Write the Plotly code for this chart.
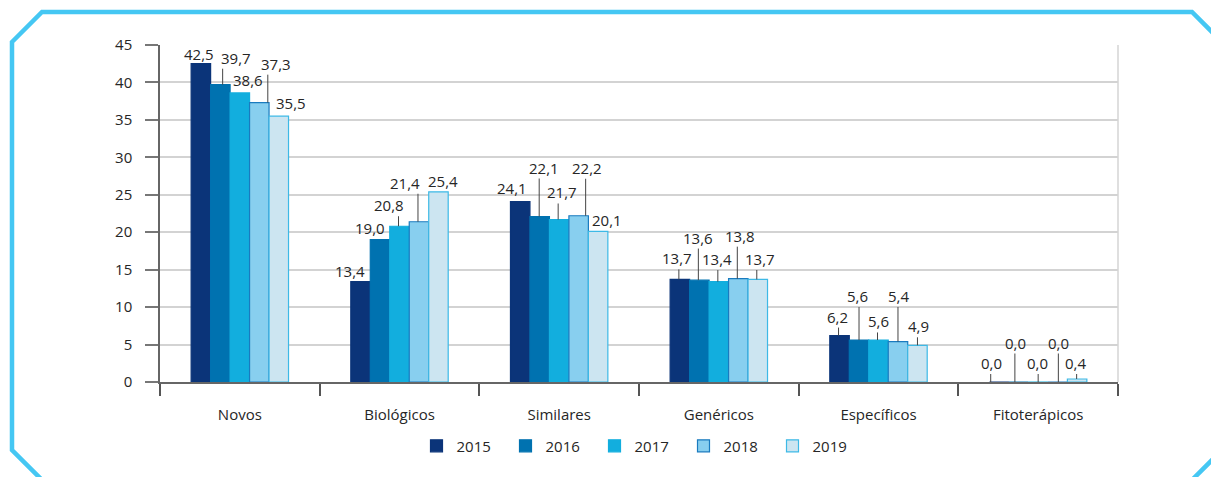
import plotly.graph_objects as go

categories = ["Novos", "Biológicos", "Similares", "Genéricos", "Específicos", "Fitoterápicos"]
years = ["2015", "2016", "2017", "2018", "2019"]

v2015 = [42.5, 13.4, 24.1, 13.7, 6.2, 0.0]
v2016 = [39.7, 19.0, 22.1, 13.6, 5.6, 0.0]
v2017 = [38.6, 20.8, 21.7, 13.4, 5.6, 0.0]
v2018 = [37.3, 21.4, 22.2, 13.8, 5.4, 0.0]
v2019 = [35.5, 25.4, 20.1, 13.7, 4.9, 0.4]
series = [v2015, v2016, v2017, v2018, v2019]

# label placement (style only): px above bar top, text x shift, leader x shift
lab2015 = [10, 10.6, 14, 21, 19, 19]
lab2016 = [27, 12, 49, 42.6, 44, 39.5]
lab2017 = [12.5, 21, 27, 22.6, 18.6, 19]
lab2018 = [39, 39, 48, 43, 45.6, 39.5]
lab2019 = [13.5, 11, 11, 20.4, 19, 16]
label_offsets = [lab2015, lab2016, lab2017, lab2018, lab2019]

tdx2015 = [-1.5, -10.7, -8, -3, -2, -8]
tdx2016 = [15.6, -9.6, 4, -1.7, -1.3, -3.5]
tdx2017 = [8, -11, 3, -2, -0.5, -0.7]
tdx2018 = [17, -14.4, 8.5, 2, 0.4, 0.7]
tdx2019 = [12, 4.2, 8.7, 2, 0.7, -1.2]
text_dx = [tdx2015, tdx2016, tdx2017, tdx2018, tdx2019]

ldx2015 = [0, 0, 0, -1, -1, -8.5]
ldx2016 = [2.3, 0, -0.5, -1, 0, -3.8]
ldx2017 = [0, -1, -1, -1, -1, 0]
ldx2018 = [8.5, -1, 7, -1, 0, 0.7]
ldx2019 = [0, 0, 0, -1, 0, -0.5]
leader_dx = [ldx2015, ldx2016, ldx2017, ldx2018, ldx2019]

fills = ["#0B3479", "#0072B0", "#12AEDE", "#88CFEF", "#CCE5F1"]
borders = ["#0B3479", "#0072B0", "#12AEDE", "#1A7BBF", "#3DB9E6"]

FONT = "Open Sans"
TXT = "#262626"
bargap = 0.39
n = len(years)
bw = (1 - bargap) / n

fig = go.Figure()
for j, (yr, vals) in enumerate(zip(years, series)):
    fig.add_trace(go.Bar(
        name=yr, x=list(range(len(categories))), y=vals,
        marker=dict(color=fills[j], line=dict(color=borders[j], width=1.2)),
        hoverinfo="skip",
    ))

annotations = []
shapes = []
for j, vals in enumerate(series):
    for i, v in enumerate(vals):
        off = label_offsets[j][i]
        xpos = i + (j - (n - 1) / 2) * bw
        txt = f"{v:.1f}".replace(".", ",")
        annotations.append(dict(
            x=xpos, y=v, xref="x", yref="y", text=txt,
            showarrow=False, yshift=off, xshift=text_dx[j][i],
            yanchor="middle", xanchor="center",
            font=dict(family=FONT, size=15, color=TXT),
        ))
        if off > 15:
            d = leader_dx[j][i]
            shapes.append(dict(
                type="line", xref="x", yref="y",
                xsizemode="pixel", xanchor=xpos, x0=d, x1=d,
                ysizemode="pixel", yanchor=v, y0=0, y1=off - 11,
                line=dict(color="#444", width=1),
            ))

# frame (octagon) in pixel coordinates converted to paper
L, R, T, B = 160, 93, 45, 95
W, H = 1211, 477
pw, ph = W - L - R, H - T - B

def P(px, py):
    return (px - L) / pw, (H - B - py) / ph

pts = [(12, 42), (42, 12), (1192, 12), (1222, 42), (1222, 450), (1192, 480), (42, 480), (12, 450)]
path = "M " + " L ".join(f"{P(a, b)[0]:.5f},{P(a, b)[1]:.5f}" for a, b in pts) + " Z"

shapes += [
    dict(type="path", xref="paper", yref="paper", path=path,
         line=dict(color="#45C7F3", width=4.5), fillcolor="rgba(0,0,0,0)"),
    dict(type="line", xref="paper", yref="paper", x0=1, x1=1, y0=0, y1=1,
         line=dict(color="#D5D5D5", width=1.5)),
]

fig.update_layout(
    width=W, height=H, autosize=False,
    margin=dict(l=L, r=R, t=T, b=B),
    paper_bgcolor="white", plot_bgcolor="white",
    barmode="group", bargap=bargap, bargroupgap=0,
    font=dict(family=FONT, size=15, color=TXT),
    showlegend=True,
    legend=dict(orientation="h", x=0.5, xanchor="center", y=-0.19, yanchor="middle",
                font=dict(family=FONT, size=15, color=TXT), entrywidth=44,
                traceorder="normal"),
    annotations=annotations,
    shapes=shapes,
    xaxis=dict(
        range=[-0.5, len(categories) - 0.5],
        tickmode="array", tickvals=list(range(len(categories))), ticktext=categories,
        ticks="", showgrid=False, zeroline=False,
        showline=True, linecolor="#666", linewidth=1.5,
        ticklabelstandoff=18,
        tickfont=dict(family=FONT, size=15, color=TXT),
        minor=dict(tickmode="array", tickvals=[k - 0.5 for k in range(len(categories) + 1)],
                   ticks="outside", ticklen=12, tickcolor="#555", tickwidth=1.5, showgrid=False),
    ),
    yaxis=dict(
        range=[0, 45], dtick=5, tick0=0,
        showgrid=True, gridcolor="#D3D3D3", gridwidth=1.5,
        zeroline=False, showline=True, linecolor="#666", linewidth=1.5,
        ticks="outside", ticklen=13, tickcolor="#777", tickwidth=1.5,
        ticklabelstandoff=10,
        tickfont=dict(family=FONT, size=15, color=TXT),
    ),
)

fig.write_html("out.html", config={"displayModeBar": False},
               post_script="document.body.style.margin='0';document.body.style.overflow='hidden';")
